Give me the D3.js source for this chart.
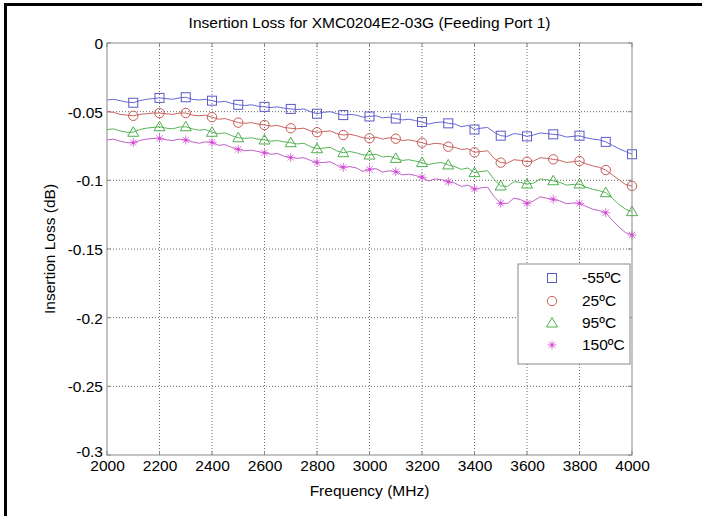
<!DOCTYPE html>
<html><head><meta charset="utf-8">
<script src="https://cdn.jsdelivr.net/npm/d3@7"></script>
<style>body{margin:0;background:#fff}svg{display:block}text{font-family:"Liberation Sans",Arial,sans-serif;fill:#000}</style>
</head><body>
<script>
const freqs = [2000,2025,2050,2075,2100,2125,2150,2175,2200,2225,2250,2275,2300,2325,2350,2375,2400,2425,2450,2475,2500,2525,2550,2575,2600,2625,2650,2675,2700,2725,2750,2775,2800,2825,2850,2875,2900,2925,2950,2975,3000,3025,3050,3075,3100,3125,3150,3175,3200,3225,3250,3275,3300,3325,3350,3375,3400,3425,3450,3475,3500,3525,3550,3575,3600,3625,3650,3675,3700,3725,3750,3775,3800,3825,3850,3875,3900,3925,3950,3975,4000];
const lossM55 = [-0.0415,-0.0410,-0.0420,-0.0430,-0.0435,-0.0420,-0.0410,-0.0405,-0.0400,-0.0405,-0.0410,-0.0400,-0.0395,-0.0410,-0.0415,-0.0410,-0.0420,-0.0430,-0.0425,-0.0440,-0.0450,-0.0455,-0.0450,-0.0460,-0.0465,-0.0470,-0.0465,-0.0475,-0.0480,-0.0485,-0.0480,-0.0500,-0.0515,-0.0505,-0.0500,-0.0515,-0.0525,-0.0520,-0.0525,-0.0540,-0.0535,-0.0530,-0.0545,-0.0540,-0.0550,-0.0560,-0.0555,-0.0565,-0.0575,-0.0590,-0.0580,-0.0575,-0.0585,-0.0590,-0.0610,-0.0600,-0.0630,-0.0620,-0.0615,-0.0650,-0.0675,-0.0680,-0.0660,-0.0665,-0.0680,-0.0670,-0.0655,-0.0660,-0.0665,-0.0670,-0.0685,-0.0680,-0.0675,-0.0690,-0.0700,-0.0705,-0.0720,-0.0745,-0.0770,-0.0790,-0.0810];
const loss25 = [-0.0500,-0.0505,-0.0520,-0.0525,-0.0530,-0.0520,-0.0515,-0.0510,-0.0510,-0.0515,-0.0520,-0.0510,-0.0510,-0.0525,-0.0530,-0.0525,-0.0540,-0.0555,-0.0550,-0.0565,-0.0580,-0.0585,-0.0580,-0.0590,-0.0597,-0.0605,-0.0600,-0.0615,-0.0621,-0.0625,-0.0620,-0.0640,-0.0650,-0.0645,-0.0640,-0.0660,-0.0670,-0.0665,-0.0675,-0.0690,-0.0694,-0.0685,-0.0700,-0.0690,-0.0697,-0.0710,-0.0705,-0.0715,-0.0726,-0.0740,-0.0730,-0.0735,-0.0755,-0.0760,-0.0775,-0.0770,-0.0796,-0.0790,-0.0785,-0.0840,-0.0871,-0.0875,-0.0850,-0.0855,-0.0864,-0.0860,-0.0835,-0.0840,-0.0847,-0.0855,-0.0870,-0.0865,-0.0859,-0.0880,-0.0895,-0.0905,-0.0925,-0.0960,-0.0995,-0.1030,-0.1041];
const loss95 = [-0.0630,-0.0625,-0.0640,-0.0650,-0.0650,-0.0630,-0.0620,-0.0615,-0.0610,-0.0620,-0.0625,-0.0612,-0.0610,-0.0625,-0.0635,-0.0630,-0.0650,-0.0660,-0.0655,-0.0675,-0.0690,-0.0695,-0.0690,-0.0700,-0.0706,-0.0715,-0.0710,-0.0720,-0.0726,-0.0735,-0.0730,-0.0755,-0.0770,-0.0765,-0.0760,-0.0785,-0.0799,-0.0790,-0.0800,-0.0815,-0.0816,-0.0810,-0.0830,-0.0825,-0.0840,-0.0855,-0.0850,-0.0860,-0.0871,-0.0885,-0.0875,-0.0870,-0.0888,-0.0900,-0.0920,-0.0910,-0.0944,-0.0935,-0.0930,-0.0995,-0.1041,-0.1045,-0.1010,-0.1015,-0.1027,-0.1020,-0.0990,-0.0995,-0.1003,-0.1015,-0.1035,-0.1030,-0.1027,-0.1050,-0.1065,-0.1075,-0.1090,-0.1130,-0.1175,-0.1210,-0.1228];
const loss150 = [-0.0706,-0.0700,-0.0715,-0.0725,-0.0726,-0.0710,-0.0700,-0.0695,-0.0694,-0.0705,-0.0710,-0.0700,-0.0706,-0.0720,-0.0730,-0.0720,-0.0723,-0.0745,-0.0740,-0.0760,-0.0774,-0.0785,-0.0780,-0.0790,-0.0799,-0.0810,-0.0805,-0.0825,-0.0833,-0.0840,-0.0835,-0.0855,-0.0871,-0.0870,-0.0865,-0.0890,-0.0905,-0.0900,-0.0910,-0.0935,-0.0920,-0.0915,-0.0940,-0.0930,-0.0937,-0.0960,-0.0955,-0.0965,-0.0978,-0.1005,-0.0990,-0.0995,-0.1010,-0.1020,-0.1045,-0.1035,-0.1063,-0.1055,-0.1050,-0.1120,-0.1167,-0.1170,-0.1130,-0.1140,-0.1167,-0.1150,-0.1120,-0.1130,-0.1138,-0.1150,-0.1170,-0.1165,-0.1167,-0.1190,-0.1210,-0.1220,-0.1236,-0.1290,-0.1340,-0.1380,-0.1398];
const seriesNames = ["-55ºC","25ºC","95ºC","150ºC"];
const xTicks = [2000,2200,2400,2600,2800,3000,3200,3400,3600,3800,4000];
const yTicks = [0,-0.05,-0.1,-0.15,-0.2,-0.25,-0.3];
const yTickLabels = ["0","-0.05","-0.1","-0.15","-0.2","-0.25","-0.3"];
const titleText = "Insertion Loss for XMC0204E2-03G (Feeding Port 1)";
const xLabel = "Frequency (MHz)";
const yLabel = "Insertion Loss (dB)";

const W = 702, H = 516;
const L = 107, R = 632, T = 43, B = 455;
const colors = ["#6868d4", "#c8645f", "#58b458", "#c060c8"];
const markerColors = ["#5a5ac8", "#c85a55", "#4cb04c", "#e040e0"];
const svg = d3.select("body").append("svg").attr("width", W).attr("height", H);

// frame borders
svg.append("rect").attr("x", 4).attr("y", 3).attr("width", W - 4).attr("height", 3).attr("fill", "#000");
svg.append("rect").attr("x", 4).attr("y", 3).attr("width", 3).attr("height", H - 3).attr("fill", "#000");

const x = d3.scaleLinear().domain([2000, 4000]).range([L, R]);
const y = d3.scaleLinear().domain([-0.3, 0]).range([B, T]);

// grid
const grid = svg.append("g").attr("stroke", "#444").attr("stroke-width", 0.8).attr("stroke-dasharray", "1,2");
xTicks.slice(1, -1).forEach(t => grid.append("line").attr("x1", x(t)).attr("x2", x(t)).attr("y1", T).attr("y2", B));
yTicks.slice(1, -1).forEach(t => grid.append("line").attr("x1", L).attr("x2", R).attr("y1", y(t)).attr("y2", y(t)));

// axes
const xAxis = d3.axisBottom(x).tickValues(xTicks).tickFormat(d3.format("d")).tickSize(0).tickPadding(5);
const gx = svg.append("g").attr("transform", `translate(0,${B})`).call(xAxis);
const yAxis = d3.axisLeft(y).tickValues(yTicks).tickFormat((d, i) => yTickLabels[i]).tickSize(0).tickPadding(4);
const gy = svg.append("g").attr("transform", `translate(${L},0)`).call(yAxis);
[gx, gy].forEach(g => { g.select(".domain").remove(); g.selectAll("text").attr("font-size", 15.5).attr("font-family", "Liberation Sans, Arial, sans-serif").attr("fill", "#000"); });
gy.selectAll(".tick text").attr("dy", (d, i) => i === yTicks.length - 1 ? "0.12em" : "0.35em");
// inward tick marks
const tk = svg.append("g").attr("stroke", "#888").attr("stroke-width", 1);
xTicks.forEach(t => { tk.append("line").attr("x1", x(t)).attr("x2", x(t)).attr("y1", B).attr("y2", B - 4); tk.append("line").attr("x1", x(t)).attr("x2", x(t)).attr("y1", T).attr("y2", T + 4); });
yTicks.forEach(t => { tk.append("line").attr("x1", L).attr("x2", L + 4).attr("y1", y(t)).attr("y2", y(t)); tk.append("line").attr("x1", R).attr("x2", R - 4).attr("y1", y(t)).attr("y2", y(t)); });

// lines
const all = [lossM55, loss25, loss95, loss150];
const line = d3.line().x((d, i) => x(freqs[i])).y(d => y(d));
all.forEach((s, k) => svg.append("path").datum(s).attr("d", line).attr("fill", "none").attr("stroke", colors[k]).attr("stroke-width", 1));

function drawMarker(g, k, cx, cy) {
  const c = markerColors[k];
  if (k === 0) g.append("rect").attr("x", cx - 4.5).attr("y", cy - 4.5).attr("width", 9).attr("height", 9).attr("fill", "none").attr("stroke", c).attr("stroke-width", 1);
  else if (k === 1) g.append("circle").attr("cx", cx).attr("cy", cy).attr("r", 4.7).attr("fill", "none").attr("stroke", c).attr("stroke-width", 1);
  else if (k === 2) g.append("path").attr("d", `M${cx},${cy - 5.5}L${cx + 5.5},${cy + 4}L${cx - 5.5},${cy + 4}Z`).attr("fill", "none").attr("stroke", c).attr("stroke-width", 1);
  else {
    const r = 4.5;
    g.append("path").attr("d", `M${cx - r},${cy}H${cx + r}M${cx},${cy - r}V${cy + r}M${cx - r * 0.7},${cy - r * 0.7}L${cx + r * 0.7},${cy + r * 0.7}M${cx - r * 0.7},${cy + r * 0.7}L${cx + r * 0.7},${cy - r * 0.7}`).attr("stroke", "#d878d8").attr("stroke-width", 1);
    g.append("circle").attr("cx", cx).attr("cy", cy).attr("r", 1.5).attr("fill", c);
  }
}
const mg = svg.append("g");
all.forEach((s, k) => s.forEach((v, i) => { const f = freqs[i]; if (f > 2000 && f % 100 === 0) drawMarker(mg, k, x(f), y(v)); }));

// box
svg.append("rect").attr("x", L).attr("y", T).attr("width", R - L).attr("height", B - T).attr("fill", "none").attr("stroke", "#888").attr("stroke-width", 1);

// title & labels
svg.append("text").attr("x", (L + R) / 2).attr("y", 28).attr("text-anchor", "middle").attr("font-size", 15.5).text(titleText);
svg.append("text").attr("x", (L + R) / 2).attr("y", 496).attr("text-anchor", "middle").attr("font-size", 15.5).text(xLabel);
svg.append("text").attr("transform", `translate(55,${(T + B) / 2}) rotate(-90)`).attr("text-anchor", "middle").attr("font-size", 15.5).text(yLabel);

// legend
const lg = svg.append("g");
lg.append("rect").attr("x", 518).attr("y", 264).attr("width", 112).attr("height", 100).attr("fill", "#fff").attr("stroke", "#888").attr("stroke-width", 1);
const rows = [278, 301, 323, 345];
seriesNames.forEach((n, k) => {
  drawMarker(lg, k, 552, rows[k]);
  lg.append("text").attr("x", 582).attr("y", rows[k]).attr("dy", "0.35em").attr("font-size", 15.5).text(n);
});
</script>
</body></html>
